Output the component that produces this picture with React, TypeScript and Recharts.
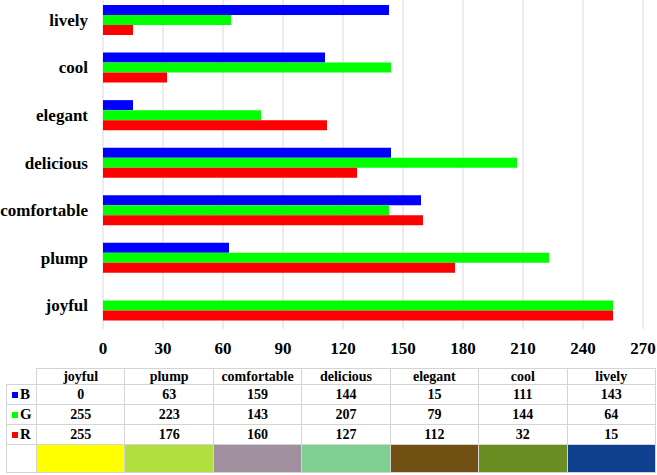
import { BarChart, Bar, XAxis, YAxis, CartesianGrid } from 'recharts';

const categories = ['joyful', 'plump', 'comfortable', 'delicious', 'elegant', 'cool', 'lively'];
const bValues = [0, 63, 159, 144, 15, 111, 143];
const gValues = [255, 223, 143, 207, 79, 144, 64];
const rValues = [255, 176, 160, 127, 112, 32, 15];
const swatchColors = ['#FFFF00', '#B0DF3F', '#A08F9F', '#7FCF90', '#704F12', '#6B8E23', '#0F408F'];
const xTicks = [0, 30, 60, 90, 120, 150, 180, 210, 240, 270];

const series = [
    { key: 'B', color: '#0000FF', values: bValues },
    { key: 'G', color: '#00FF00', values: gValues },
    { key: 'R', color: '#FF0000', values: rValues },
];

const data = categories.map((name, i) => ({
    name,
    B: bValues[i],
    G: gValues[i],
    R: rValues[i],
}));

const FONT = '"Liberation Serif", "DejaVu Serif", serif';
const BORDER = '1px solid #d4d4d4';

function DataTable() {
    const cell: React.CSSProperties = {
        border: BORDER,
        padding: 0,
        textAlign: 'center',
        verticalAlign: 'middle',
        fontFamily: FONT,
        fontWeight: 'bold',
        fontSize: 14,
        color: '#000',
        lineHeight: 1,
    };
    return (
        <table
            style={{
                position: 'absolute',
                left: 6,
                top: 368,
                borderCollapse: 'collapse',
                tableLayout: 'fixed',
                width: 649,
            }}
        >
            <colgroup>
                <col style={{ width: 30 }} />
                {categories.map((c) => (
                    <col key={c} style={{ width: 88.43 }} />
                ))}
            </colgroup>
            <tbody>
                <tr style={{ height: 16 }}>
                    <td style={{ ...cell, borderTop: 'none', borderLeft: 'none' }} />
                    {categories.map((c) => (
                        <td key={c} style={cell}>{c}</td>
                    ))}
                </tr>
                {series.map((s) => (
                    <tr key={s.key} style={{ height: 20 }}>
                        <td style={{ ...cell, textAlign: 'left', paddingLeft: 5 }}>
                            <span
                                style={{
                                    display: 'inline-block',
                                    width: 6,
                                    height: 6,
                                    background: s.color,
                                    marginRight: 2,
                                    verticalAlign: 'middle',
                                }}
                            />
                            <span style={{ verticalAlign: 'middle', fontSize: 15 }}>{s.key}</span>
                        </td>
                        {s.values.map((v, i) => (
                            <td key={i} style={cell}>{v}</td>
                        ))}
                    </tr>
                ))}
                <tr style={{ height: 28 }}>
                    <td style={cell} />
                    {swatchColors.map((c, i) => (
                        <td key={i} style={{ ...cell, background: c }} />
                    ))}
                </tr>
            </tbody>
        </table>
    );
}

export default function App() {
    return (
        <div style={{ position: 'absolute', left: 0, top: 0, width: 657, height: 475, background: '#fff', overflow: 'hidden' }}>
            <BarChart
                width={657}
                height={365}
                data={data}
                layout="vertical"
                margin={{ top: -4, right: 14, left: 0, bottom: 0 }}
                barGap={0}
                barSize={10}
            >
                <CartesianGrid horizontal={false} stroke="#d9d9d9" strokeWidth={1} />
                <XAxis
                    type="number"
                    domain={[0, 270]}
                    ticks={xTicks}
                    axisLine={false}
                    tickLine={false}
                    tickMargin={7}
                    height={36}
                    tick={{ fontFamily: FONT, fontWeight: 'bold', fontSize: 17, fill: '#000' }}
                />
                <YAxis
                    type="category"
                    dataKey="name"
                    reversed
                    axisLine={false}
                    tickLine={false}
                    tickMargin={9}
                    width={103}
                    interval={0}
                    tick={{ fontFamily: FONT, fontWeight: 'bold', fontSize: 17, fill: '#000' }}
                />
                {series.map((s) => (
                    <Bar key={s.key} dataKey={s.key} fill={s.color} isAnimationActive={false} />
                ))}
            </BarChart>
            <DataTable />
        </div>
    );
}
